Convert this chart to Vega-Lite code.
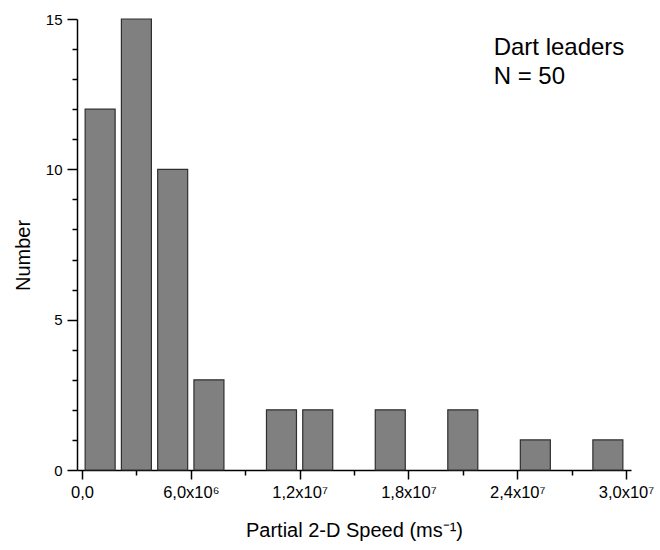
{
  "$schema": "https://vega.github.io/schema/vega-lite/v6.json",
  "width": 554,
  "height": 451,
  "autosize": {"type": "none"},
  "padding": {"left": 77, "top": 19, "right": 29, "bottom": 80},
  "background": "white",
  "config": {
    "view": {"stroke": null},
    "font": "Liberation Sans",
    "axis": {
      "domainColor": "black",
      "domainWidth": 1.5,
      "tickColor": "black",
      "tickWidth": 1.5,
      "labelColor": "black",
      "labelFont": "Liberation Sans",
      "titleFont": "Liberation Sans",
      "titleColor": "black",
      "titleFontWeight": "normal",
      "grid": false
    }
  },
  "data": {
    "values": [
      {"speed": 1000000, "count": 12},
      {"speed": 3000000, "count": 15},
      {"speed": 5000000, "count": 10},
      {"speed": 7000000, "count": 3},
      {"speed": 11000000, "count": 2},
      {"speed": 13000000, "count": 2},
      {"speed": 17000000, "count": 2},
      {"speed": 21000000, "count": 2},
      {"speed": 25000000, "count": 1},
      {"speed": 29000000, "count": 1}
    ]
  },
  "layer": [
    {
      "mark": {"type": "point", "opacity": 0},
      "encoding": {
        "x": {
          "field": "speed",
          "type": "quantitative",
          "scale": {"domain": [0, 30000000], "nice": false, "zero": false},
          "axis": {
            "orient": "bottom",
            "values": [3000000, 9000000, 15000000, 21000000, 27000000],
            "labels": false,
            "domain": false,
            "tickSize": 5,
            "title": null
          }
        },
        "y": {
          "field": "count",
          "type": "quantitative",
          "scale": {"domain": [0, 15], "nice": false},
          "axis": {
            "orient": "left",
            "values": [1, 2, 3, 4, 6, 7, 8, 9, 11, 12, 13, 14],
            "labels": false,
            "domain": false,
            "tickSize": 5,
            "title": null
          }
        }
      }
    },
    {
      "mark": {
        "type": "bar",
        "width": 30,
        "fill": "#808080",
        "stroke": "#2f2f2f",
        "strokeWidth": 1.2
      },
      "encoding": {
        "x": {
          "field": "speed",
          "type": "quantitative",
          "axis": {
            "orient": "bottom",
            "values": [0, 6000000, 12000000, 18000000, 24000000, 30000000],
            "labelExpr": "datum.value == 0 ? '0,0' : datum.value == 6000000 ? '6,0x10⁶' : datum.value == 12000000 ? '1,2x10⁷' : datum.value == 18000000 ? '1,8x10⁷' : datum.value == 24000000 ? '2,4x10⁷' : '3,0x10⁷'",
            "tickSize": 9,
            "labelFontSize": 16.5,
            "labelPadding": 5,
            "labelFlush": false,
            "labelOverlap": false,
            "title": "Partial 2-D Speed (ms⁻¹)",
            "titleFontSize": 20,
            "titlePadding": 20
          }
        },
        "y": {
          "field": "count",
          "type": "quantitative",
          "axis": {
            "orient": "left",
            "values": [0, 5, 10, 15],
            "tickSize": 10,
            "labelFontSize": 15,
            "labelPadding": 5,
            "labelFlush": false,
            "title": "Number",
            "titleFontSize": 20,
            "titlePadding": 12,
            "titleY": 236
          }
        }
      }
    },
    {
      "data": {"values": [{"note": "annotation"}]},
      "mark": {
        "type": "text",
        "text": ["Dart leaders", "N = 50"],
        "align": "left",
        "baseline": "alphabetic",
        "font": "Liberation Sans",
        "fontSize": 24,
        "fontWeight": "normal",
        "lineHeight": 29,
        "fill": "black"
      },
      "encoding": {
        "x": {"datum": 22700000, "type": "quantitative", "axis": null},
        "y": {"datum": 13.8, "type": "quantitative", "axis": null}
      }
    }
  ],
  "resolve": {"axis": {"x": "independent", "y": "independent"}}
}
